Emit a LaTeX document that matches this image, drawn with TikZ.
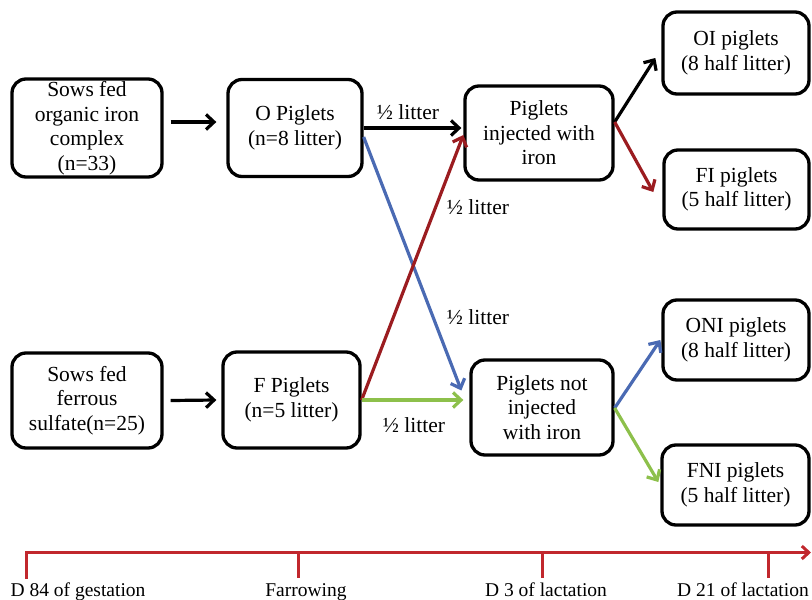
\documentclass[tikz,border=0pt]{standalone}
\usepackage{fontspec}
\setmainfont{Liberation Serif}
\usetikzlibrary{arrows.meta,calc}
\definecolor{dred}{HTML}{9B1C20}
\definecolor{tred}{HTML}{C1272D}
\definecolor{mblue}{HTML}{4A6AB3}
\definecolor{mgreen}{HTML}{8DC04B}
\newcommand{\boxfont}{\fontsize{21.5}{24.5}\selectfont}
\newcommand{\tlfont}{\fontsize{19.5}{22}\selectfont}
\begin{document}
\begin{tikzpicture}[x=1pt,y=-1pt,
  box/.style={draw,line width=3.3pt,rounded corners=14pt,inner sep=0pt,align=center,font=\boxfont},
  conn/.style={line width=3.2pt,-{Straight Barb[length=8pt,width=15pt]}},
  lbl/.style={font=\boxfont,inner sep=0pt},
  tl/.style={font=\tlfont,inner sep=0pt,anchor=base}]
\useasboundingbox (0,0) rectangle (812,600);
% boxes
\node[box,minimum width=150pt,minimum height=98pt] (sowO) at (87,128) {Sows fed\\organic iron\\complex\\(n=33)};
\node[box,minimum width=134pt,minimum height=97pt] (O) at (295,128) {O Piglets\\(n=8 litter)};
\node[box,minimum width=148pt,minimum height=94pt] (inj) at (539,133) {Piglets\\injected with\\iron};
\node[box,minimum width=146pt,minimum height=82pt] (OI) at (736,53) {OI piglets\\(8 half litter)};
\node[box,minimum width=145pt,minimum height=79pt] (FI) at (736.5,189.5) {FI piglets\\(5 half litter)};
\node[box,minimum width=150pt,minimum height=95pt] (sowF) at (87,400.5) {Sows fed\\ferrous\\sulfate(n=25)};
\node[box,minimum width=137pt,minimum height=96pt] (F) at (291.5,400) {F Piglets\\(n=5 litter)};
\node[box,minimum width=142pt,minimum height=95pt] (ninj) at (542,407.5) {Piglets not\\injected\\with iron};
\node[box,minimum width=146pt,minimum height=80pt] (ONI) at (736,340) {ONI piglets\\(8 half litter)};
\node[box,minimum width=147pt,minimum height=80pt] (FNI) at (735.5,485) {FNI piglets\\(5 half litter)};
% connectors
\draw[conn] ($(sowO.east)+(7,-6)$) -- ($(O.west)+(-10,-6)$);
\draw[conn] ($(sowF.east)+(7,0)$) -- ($(F.west)+(-5,0)$);
\draw[conn] (O.east) -- ($(inj.west)+(-2,-5)$);
\draw[conn,mblue] ($(O.east)+(0,9)$) -- ($(ninj.west)+(-8,-17)$);
\draw[conn,dred] (F.east) -- ($(inj.west)+(0,2)$);
\draw[conn,mgreen] (F.east) -- ($(ninj.west)+(-6,-7.5)$);
\draw[conn] ($(inj.east)+(0,-11)$) -- ($(OI.west)+(-6,5)$);
\draw[conn,dred] ($(inj.east)+(0,-11)$) -- ($(FI.west)+(-9,2.5)$);
\draw[conn,mblue] ($(ninj.east)+(0,0.5)$) -- ($(ONI.west)+(-1,0)$);
\draw[conn,mgreen] ($(ninj.east)+(0,0.5)$) -- ($(FNI.west)+(-2,-3)$);
% labels
\node[lbl] (l1) at (408,112) {½ litter};
\node[lbl] (l2) at (478,207) {½ litter};
\node[lbl] (l3) at (478,317) {½ litter};
\node[lbl] (l4) at (414,425) {½ litter};
% timeline
\coordinate (ts) at (26,552.5);
\coordinate (te) at (811,552.5);
\draw[tred,line width=3pt,-{Straight Barb[length=7pt,width=13pt]}] ($(ts)+(0,26)$) -- (ts) -- (te);
\foreach \x in {298,542,768} \draw[tred,line width=3pt] (\x,552.5) -- (\x,578);
\node[tl] (d84) at (78,596) {D 84 of gestation};
\node[tl] (far) at (306,596) {Farrowing};
\node[tl] (d3) at (546,596) {D 3 of lactation};
\node[tl] (d21) at (743,596) {D 21 of lactation};
\end{tikzpicture}
\end{document}
